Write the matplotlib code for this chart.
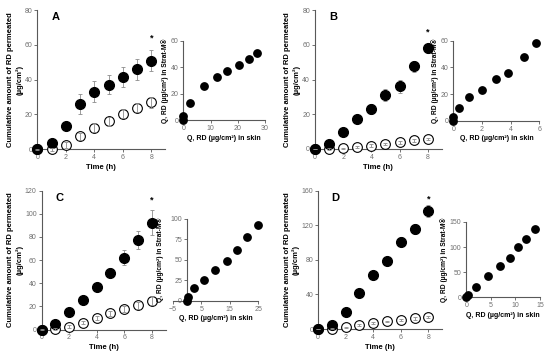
import numpy as np
import matplotlib
matplotlib.use('Agg')
import matplotlib.pyplot as plt


plt.rcParams['font.family'] = ['Liberation Sans', 'DejaVu Sans']

TIME = [0, 1, 2, 3, 4, 5, 6, 7, 8]  # Sampling time [h]

# Cumulative amount permeated through Strat-M [ug/cm2]
STRAT_A = [0, 3.5, 13.5, 26, 33, 37, 41.5, 46, 51]
STRAT_A_ERR = [0.5, 1, 1.5, 6, 6, 5.5, 6, 6, 6]
STRAT_B = [0, 3, 9.5, 17.5, 23, 31, 36, 47.5, 58]
STRAT_B_ERR = [0.3, 0.5, 1, 1.5, 3, 3.5, 3.5, 3, 2.5]
STRAT_C = [0, 5, 15, 25.5, 37, 49, 62, 77.5, 92.5]
STRAT_C_ERR = [0.5, 1, 1.5, 1.5, 2, 4, 6.5, 7.5, 10.5]
STRAT_D = [0, 5, 20, 42, 62.5, 78.5, 101, 116, 137]
STRAT_D_ERR = [0.5, 1, 1.5, 2, 2, 2, 5, 6, 7]

# Cumulative amount permeated through skin [ug/cm2]
SKIN_A = [0, 0, 2.5, 7.5, 12.5, 16, 20.5, 24, 27]
SKIN_A_ERR = [0.3, 1, 1.5, 2, 2.5, 2.5, 2.5, 2.5, 3]
SKIN_B = [0, 0, 0.4, 1.1, 2, 3, 3.8, 4.9, 5.8]
SKIN_B_ERR = [0.2, 0.3, 0.4, 0.5, 0.6, 0.6, 0.7, 0.7, 0.8]
SKIN_C = [0, 0.5, 2.5, 6, 10, 14, 17.5, 21, 25]
SKIN_C_ERR = [0.3, 0.5, 1, 1.5, 2, 2, 2.5, 3, 4]
SKIN_D = [0, 0.3, 2, 4.5, 6.8, 8.8, 10.5, 12.2, 14]
SKIN_D_ERR = [0.2, 0.5, 0.8, 1, 1, 1, 1.2, 1.2, 1.5]

PANELS = ['A', 'B', 'C', 'D']
MAIN_YMAX = [80, 80, 120, 160]
MAIN_YSTEP = [20, 20, 20, 40]
INSET_XTICKS = [[0, 10, 20, 30], [0, 2, 4, 6], [-5, 5, 15, 25], [0, 5, 10, 15]]
INSET_YTICKS = [[0, 20, 40, 60], [0, 20, 40, 60], [0, 25, 50, 75, 100], [0, 50, 100, 150]]
STAR_GAP = [7, 7, 9, 6]  # Gap between top of error bar and asterisk

# Axes boxes in figure fraction [left, bottom, width, height]
MAIN_BOX = [[0.0678, 0.5794, 0.2331, 0.3924],
            [0.5727, 0.5803, 0.2305, 0.3915],
            [0.0755, 0.0718, 0.2255, 0.3910],
            [0.5782, 0.0732, 0.2256, 0.3896]]
INSET_BOX = [[0.3336, 0.6606, 0.1482, 0.2248],
             [0.8245, 0.6600, 0.1560, 0.2254],
             [0.3140, 0.1530, 0.1556, 0.2301],
             [0.8478, 0.1620, 0.1340, 0.2127]]

AX_COLOR = '#595959'
TICK_LABEL_COLOR = '#707070'
ERR_COLOR = '#8c8c8c'


def StyleAxes(ax):
	for side in ['top', 'right']:
		ax.spines[side].set_visible(False)
	for side in ['left', 'bottom']:
		ax.spines[side].set_color(AX_COLOR)
		ax.spines[side].set_linewidth(0.8)
	ax.tick_params(direction='out', length=2, width=0.6, color=AX_COLOR,
		labelsize=5, labelcolor=TICK_LABEL_COLOR, pad=1.5)


strat = [STRAT_A, STRAT_B, STRAT_C, STRAT_D]
stratErr = [STRAT_A_ERR, STRAT_B_ERR, STRAT_C_ERR, STRAT_D_ERR]
skin = [SKIN_A, SKIN_B, SKIN_C, SKIN_D]
skinErr = [SKIN_A_ERR, SKIN_B_ERR, SKIN_C_ERR, SKIN_D_ERR]

fig = plt.figure(figsize=(5.5, 3.55), dpi=100)

for i, name in enumerate(PANELS):
	# Main plot: cumulative amount vs time
	ax = fig.add_axes(MAIN_BOX[i])
	StyleAxes(ax)

	ax.plot(TIME, skin[i], 'o', ms=7, mfc='white', mec='black', mew=0.8,
		clip_on=False, zorder=3)
	ax.plot(TIME, strat[i], 'o', ms=7, mfc='black', mec='black',
		clip_on=False, zorder=3)
	ax.errorbar(TIME, skin[i], yerr=skinErr[i], fmt='none', ecolor=ERR_COLOR,
		elinewidth=0.6, capsize=1.5, capthick=0.6, clip_on=False, zorder=4)
	ax.errorbar(TIME, strat[i], yerr=stratErr[i], fmt='none', ecolor=ERR_COLOR,
		elinewidth=0.6, capsize=1.5, capthick=0.6, clip_on=False, zorder=2)

	starY = strat[i][-1] + stratErr[i][-1] + STAR_GAP[i]
	ax.text(TIME[-1], starY, '*', ha='center', va='center', fontsize=6.5,
		fontweight='bold')

	ax.set_xlim(0, 9)
	ax.set_ylim(0, MAIN_YMAX[i])
	ax.set_xticks([0, 2, 4, 6, 8])
	ax.set_yticks(np.arange(0, MAIN_YMAX[i] + 1, MAIN_YSTEP[i]))
	ax.set_xlabel('Time (h)', fontsize=5.5, fontweight='bold', labelpad=2)
	ax.set_ylabel('Cumulative amount of RD permeated\n(µg/cm²)', fontsize=5.5,
		fontweight='bold', labelpad=1, linespacing=1.3)
	ax.text(0.11, 0.95, name, transform=ax.transAxes, fontsize=8,
		fontweight='bold', va='center', ha='left')

	# Inset: Strat-M vs skin correlation
	axIn = fig.add_axes(INSET_BOX[i])
	StyleAxes(axIn)
	axIn.plot(skin[i], strat[i], 'o', ms=5.3, mfc='black', mec='black',
		clip_on=False, zorder=3)
	xt = INSET_XTICKS[i]
	yt = INSET_YTICKS[i]
	axIn.set_xlim(xt[0], xt[-1])
	axIn.set_ylim(yt[0], yt[-1])
	axIn.set_xticks(xt)
	axIn.set_yticks(yt)
	if xt[0] < 0:
		axIn.spines['left'].set_position(('data', 0))
	axIn.set_xlabel('Q, RD (µg/cm²) in skin', fontsize=5, fontweight='bold',
		labelpad=2)
	axIn.set_ylabel('Q, RD (µg/cm²) in Strat-M®', fontsize=4.8,
		fontweight='bold', labelpad=1)
	if xt[0] < 0:
		axIn.yaxis.set_label_coords(-0.1, 0.5)

fig.savefig('out.png', dpi=100)
